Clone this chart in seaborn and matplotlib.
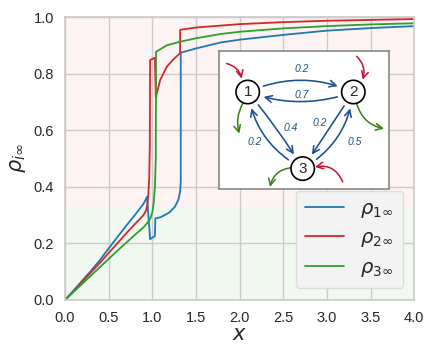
import numpy as np
import pandas as pd
import matplotlib
matplotlib.use("Agg")
import matplotlib.pyplot as plt
from matplotlib.patches import Circle
import seaborn as sns

# curves (repeated x = vertical jump)
x1 = [0, 0.1, 0.2, 0.3, 0.4, 0.5, 0.6, 0.7, 0.8, 0.9, 0.94, 0.975, 1.03, 1.035, 1.1, 1.2,
      1.26, 1.3, 1.32, 1.326, 1.326, 1.5, 1.78, 2.0, 2.5, 3.0, 3.5, 4.0]
rho1 = [0, 0.034, 0.069, 0.104, 0.141, 0.182, 0.222, 0.262, 0.30, 0.34, 0.365, 0.215, 0.226, 0.288, 0.293, 0.31,
        0.33, 0.355, 0.385, 0.42, 0.874, 0.889, 0.91, 0.92, 0.937, 0.952, 0.961, 0.968]

x2 = [0, 0.1, 0.2, 0.3, 0.4, 0.5, 0.6, 0.7, 0.8, 0.9, 0.93, 0.945, 0.955, 0.965, 0.972, 0.975, 1.03, 1.04,
      1.09, 1.165, 1.24, 1.318, 1.32, 1.5, 2.0, 2.5, 3.0, 3.5, 4.0]
rho2 = [0, 0.032, 0.065, 0.098, 0.131, 0.166, 0.2, 0.235, 0.268, 0.30, 0.318, 0.34, 0.375, 0.43, 0.55, 0.848, 0.856, 0.715,
        0.777, 0.824, 0.85, 0.872, 0.955, 0.963, 0.975, 0.982, 0.987, 0.990, 0.993]

x3 = [0, 0.1, 0.2, 0.3, 0.4, 0.5, 0.6, 0.7, 0.8, 0.9, 0.95, 0.98, 1.0, 1.015, 1.03, 1.04, 1.043,
      1.165, 1.32, 1.5, 1.78, 2.0, 2.5, 3.0, 3.5, 4.0]
rho3 = [0, 0.029, 0.058, 0.087, 0.116, 0.145, 0.174, 0.202, 0.23, 0.257, 0.275, 0.29, 0.31, 0.34, 0.40, 0.5, 0.877,
        0.90, 0.913, 0.925, 0.94, 0.948, 0.96, 0.968, 0.974, 0.978]

labels = [r'$\rho_{1\infty}$', r'$\rho_{2\infty}$', r'$\rho_{3\infty}$']
colors = ['#1f77b4', '#d62728', '#2ca02c']
band_split = 0.33

# network in the inset: (from, to, weight)
edges = [(1, 2, 0.2), (2, 1, 0.7), (1, 3, 0.4), (3, 1, 0.2), (2, 3, 0.2), (3, 2, 0.5)]

sns.set_theme(style='whitegrid')
plt.rcParams['font.family'] = ['Liberation Sans', 'DejaVu Sans']

fig = plt.figure(figsize=(4.36, 3.63), dpi=100)
ax = fig.add_axes([0.149, 0.1736, 0.801, 0.7794])

ax.axhspan(band_split, 1.0, color='#fdf3f2', zorder=0)
ax.axhspan(0.0, band_split, color='#f1f8f0', zorder=0)

for xs, ys, lab, c in zip([x1, x2, x3], [rho1, rho2, rho3], labels, colors):
    sns.lineplot(x=xs, y=ys, sort=False, estimator=None, color=c, lw=1.3, label=lab, ax=ax)

ax.set_xlim(0, 4)
ax.set_ylim(0, 1)
ax.set_xticks(np.arange(0, 4.01, 0.5))
ax.set_yticks(np.arange(0, 1.01, 0.2))
ax.tick_params(labelsize=10.5, pad=2)
ax.set_xlabel(r'$x$', fontsize=15, labelpad=0)
ax.set_ylabel(r'$\rho_{i\infty}$', fontsize=15, labelpad=4)
leg = ax.legend(loc='lower right', fontsize=14, frameon=True, facecolor='#f3f3f3',
                edgecolor='#dcdcdc', framealpha=1.0, borderaxespad=0.6, handlelength=2.0,
                handletextpad=0.8, borderpad=0.5)

# inset graph diagram
ins = fig.add_axes([219 / 436, (363 - 189) / 363, 170 / 436, 138 / 363])
ins.set_xlim(0, 170)
ins.set_ylim(138, 0)
ins.set_xticks([])
ins.set_yticks([])
ins.grid(False)
ins.set_facecolor('white')
for s in ins.spines.values():
    s.set_color('#888888')
    s.set_linewidth(1.2)

pos = {1: (28.7, 41), 2: (134.3, 41), 3: (83.7, 117.6)}
r = 11.7
navy = '#1b4f8f'
curv = {(1, 2): -0.22, (2, 1): -0.18, (1, 3): -0.04, (3, 1): -0.25, (2, 3): 0.0, (3, 2): 0.25}
lab_pos = {(1, 2): (82.7, 17.6), (2, 1): (82.7, 43.6), (1, 3): (72, 76.6), (3, 1): (36, 91),
           (2, 3): (101, 71.5), (3, 2): (136, 91)}

for a, b, w in edges:
    ins.annotate('', xy=pos[b], xytext=pos[a],
                 arrowprops=dict(arrowstyle='->', color=navy, lw=1.15, shrinkA=12, shrinkB=12,
                                 mutation_scale=12,
                                 connectionstyle='arc3,rad=%s' % curv[(a, b)]))
    ins.text(*lab_pos[(a, b)], str(w), color=navy, fontsize=7.5, style='italic',
             ha='center', va='center')

inflow = [((7.7, 12.6), (22.7, 27.6), -0.3), ((137.7, 5.3), (143.7, 28.6), -0.3),
          ((123.7, 131), (96, 116), 0.4)]
outflow = [((23.7, 52.6), (20.3, 82.6), 0.2), ((137.7, 52.6), (165, 77.6), 0.3),
           ((72.7, 116.6), (51, 136), 0.35)]
for (s, e, rad) in inflow:
    ins.annotate('', xy=e, xytext=s,
                 arrowprops=dict(arrowstyle='->', color='#c8102e', lw=1.1, mutation_scale=12,
                                 shrinkA=0, shrinkB=0, connectionstyle='arc3,rad=%s' % rad))
for (s, e, rad) in outflow:
    ins.annotate('', xy=e, xytext=s,
                 arrowprops=dict(arrowstyle='->', color='#3a7d12', lw=1.1, mutation_scale=12,
                                 shrinkA=0, shrinkB=0, connectionstyle='arc3,rad=%s' % rad))

for n, (cx, cy) in pos.items():
    ins.add_patch(Circle((cx, cy), r, facecolor='white', edgecolor='black', lw=1.2, zorder=5))
    ins.text(cx, cy, str(n), fontsize=11, ha='center', va='center', zorder=6)

fig.savefig('out.png', dpi=100)
